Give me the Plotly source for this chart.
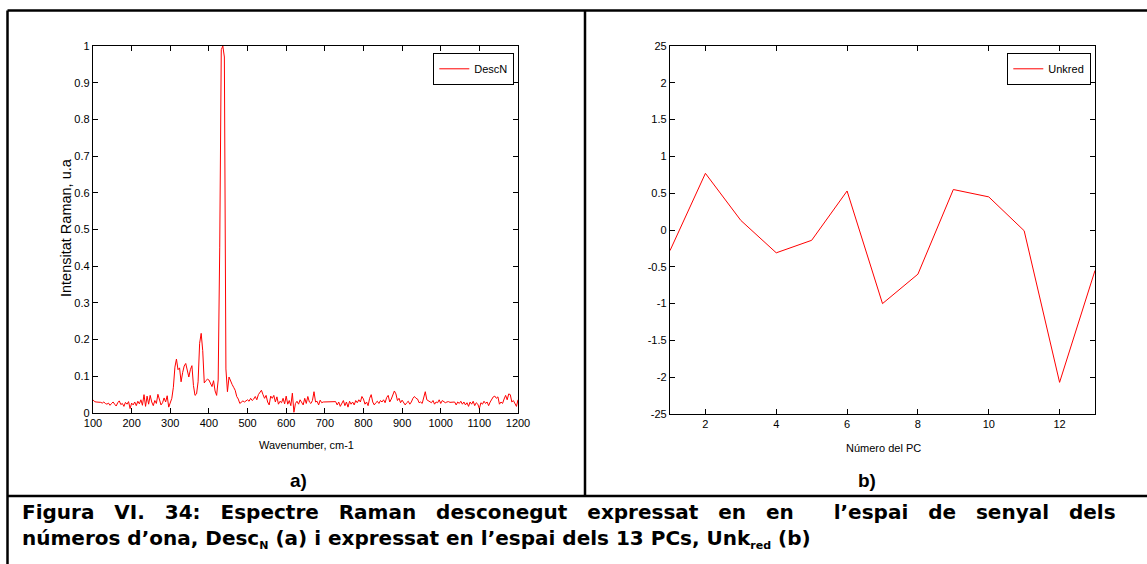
import plotly.graph_objects as go

W, H = 1147, 564

# Panel a) Raman spectrum, sampled every 4 cm-1 from 100 to 1200
wavenumber = list(range(100, 1201, 4))
desc_n = [
    0.036, 0.031, 0.030, 0.030, 0.028, 0.029, 0.027, 0.030, 0.026, 0.024,
    0.027, 0.021, 0.026, 0.030, 0.024, 0.019, 0.028, 0.033, 0.023, 0.026,
    0.018, 0.029, 0.024, 0.031, 0.012, 0.027, 0.022, 0.030, 0.020, 0.032,
    0.025, 0.036, 0.021, 0.050, 0.018, 0.046, 0.024, 0.048, 0.030, 0.020,
    0.034, 0.026, 0.051, 0.032, 0.022, 0.028, 0.041, 0.030, 0.047, 0.016,
    0.030, 0.040, 0.070, 0.125, 0.147, 0.118, 0.123, 0.085, 0.110, 0.128,
    0.135, 0.112, 0.098, 0.118, 0.129, 0.075, 0.048, 0.052, 0.085, 0.190,
    0.217, 0.170, 0.082, 0.088, 0.092, 0.090, 0.078, 0.072, 0.088, 0.060,
    0.048, 0.090, 0.450, 0.990, 1.000, 0.970, 0.120, 0.058, 0.098, 0.085,
    0.078, 0.070, 0.062, 0.045, 0.038, 0.026, 0.030, 0.033, 0.030, 0.034,
    0.036, 0.032, 0.040, 0.034, 0.038, 0.045, 0.036, 0.050, 0.058, 0.062,
    0.050, 0.040, 0.048, 0.030, 0.022, 0.046, 0.040, 0.048, 0.030, 0.044,
    0.024, 0.032, 0.028, 0.040, 0.025, 0.046, 0.024, 0.034, 0.020, 0.054,
    0.002, 0.026, 0.032, 0.024, 0.036, 0.028, 0.022, 0.040, 0.026, 0.045,
    0.030, 0.026, 0.034, 0.058, 0.030, 0.032, 0.022, 0.035, 0.028, 0.030,
    0.030, 0.031, 0.030, 0.031, 0.030, 0.029, 0.030, 0.031, 0.022, 0.030,
    0.018, 0.028, 0.034, 0.020, 0.030, 0.016, 0.032, 0.024, 0.030, 0.022,
    0.034, 0.028, 0.036, 0.030, 0.045, 0.038, 0.024, 0.030, 0.020, 0.040,
    0.050, 0.030, 0.022, 0.028, 0.032, 0.026, 0.034, 0.030, 0.036, 0.028,
    0.042, 0.048, 0.030, 0.038, 0.048, 0.060, 0.052, 0.034, 0.040, 0.028,
    0.035, 0.030, 0.022, 0.028, 0.032, 0.024, 0.030, 0.040, 0.045, 0.040,
    0.038, 0.028, 0.030, 0.026, 0.042, 0.058, 0.036, 0.034, 0.030, 0.028,
    0.034, 0.024, 0.030, 0.028, 0.036, 0.026, 0.034, 0.030, 0.028, 0.030,
    0.031, 0.029, 0.030, 0.029, 0.030, 0.022, 0.030, 0.026, 0.032, 0.024,
    0.030, 0.022, 0.028, 0.018, 0.030, 0.024, 0.032, 0.020, 0.028, 0.024,
    0.012, 0.028, 0.024, 0.032, 0.026, 0.030, 0.020, 0.030, 0.036, 0.044,
    0.046, 0.040, 0.044, 0.024, 0.030, 0.026, 0.038, 0.048, 0.036, 0.052,
    0.050, 0.030, 0.034, 0.024, 0.018, 0.036,
]
assert len(wavenumber) == len(desc_n)

x_ticks_a = list(range(100, 1201, 100))
y_ticks_a = [0, 0.1, 0.2, 0.3, 0.4, 0.5, 0.6, 0.7, 0.8, 0.9, 1]
y_ticktext_a = ["0", "0.1", "0.2", "0.3", "0.4", "0.5", "0.6", "0.7", "0.8", "0.9", "1"]

# Panel b) scores on the 13 principal components
pc_number = [1, 2, 3, 4, 5, 6, 7, 8, 9, 10, 11, 12, 13]
unk_red = [-0.28, 0.77, 0.13, -0.31, -0.14, 0.53, -1.00, -0.60, 0.55, 0.45, -0.01, -2.07, -0.55]

x_ticks_b = [2, 4, 6, 8, 10, 12]
y_ticks_b = [2.5, 2, 1.5, 1, 0.5, 0, -0.5, -1, -1.5, -2, -2.5]
y_ticktext_b = ["25", "2", "1.5", "1", "0.5", "0", "-0.5", "-1", "-1.5", "-2", "-25"]

SUB = '<sub><span style="font-size:11px">{}</span></sub>'
caption_1 = "Figura VI. 34: Espectre Raman desconegut expressat en en  l’espai de senyal dels"
caption_2 = ("números d’ona, Desc" + SUB.format("N") + " (a) i expressat en l’espai dels 13 PCs, Unk"
             + SUB.format("red") + " (b)")

SANS = "Liberation Sans, Arial, sans-serif"
RED = "#ff0000"


def px(xp):
    return xp / W


def py(yp):
    return 1 - yp / H


def justify(text):
    # widen each word gap, like a justified paragraph line
    return text.replace(" ", " \u00a0\u2009\u200a")


fig = go.Figure()
fig.add_trace(go.Scatter(x=wavenumber, y=desc_n, mode="lines", name="DescN",
                         line=dict(color=RED, width=1), xaxis="x", yaxis="y",
                         legend="legend"))
fig.add_trace(go.Scatter(x=pc_number, y=unk_red, mode="lines", name="Unkred",
                         line=dict(color=RED, width=1), xaxis="x2", yaxis="y2",
                         legend="legend2"))

axis_common = dict(showgrid=False, zeroline=False, showline=True, linecolor="black",
                   linewidth=1.3, ticks="inside", ticklen=5, tickwidth=1,
                   tickcolor="black", mirror="ticks", automargin=False,
                   tickfont=dict(family=SANS, size=11, color="black"))

legend_common = dict(xanchor="right", yanchor="top", bgcolor="white",
                     bordercolor="black", borderwidth=1.3,
                     font=dict(family=SANS, size=11, color="black"),
                     itemwidth=30, tracegroupgap=0)

fig.update_layout(
    width=W, height=H,
    margin=dict(l=0, r=0, t=0, b=0, pad=0, autoexpand=False),
    paper_bgcolor="white", plot_bgcolor="white", showlegend=True,
    xaxis=dict(domain=[px(93), px(518)], range=[100, 1200], tickvals=x_ticks_a,
               anchor="y", **axis_common),
    yaxis=dict(domain=[py(413), py(46)], range=[0, 1], tickvals=y_ticks_a,
               ticktext=y_ticktext_a, anchor="x", **axis_common),
    xaxis2=dict(domain=[px(670), px(1095)], range=[1, 13], tickvals=x_ticks_b,
                anchor="y2", **axis_common),
    yaxis2=dict(domain=[py(414), py(46)], range=[-2.5, 2.5], tickvals=y_ticks_b,
                ticktext=y_ticktext_b, anchor="x2", **axis_common),
    legend=dict(x=px(514), y=py(53), **legend_common),
    legend2=dict(x=px(1091), y=py(53), **legend_common),
)

annotations = [
    dict(text="Intensitat Raman, u.a", x=px(66), y=py(228), textangle=-90,
         font=dict(family=SANS, size=14.5, color="black")),
    dict(text="Wavenumber, cm-1", x=px(306), y=py(445),
         font=dict(family=SANS, size=11, color="black")),
    dict(text="Número del PC", x=px(883), y=py(448),
         font=dict(family=SANS, size=11, color="black")),
    dict(text="<b>a)</b>", x=px(298), y=py(480),
         font=dict(family=SANS, size=19, color="black")),
    dict(text="<b>b)</b>", x=px(867), y=py(480),
         font=dict(family=SANS, size=19, color="black")),
    dict(text="<b>" + justify(caption_1) + "</b>", x=px(20), y=py(512), xanchor="left",
         font=dict(family="DejaVu Sans", size=20, color="black")),
    dict(text="<b>" + caption_2 + "</b>", x=px(20), y=py(539), xanchor="left",
         font=dict(family="DejaVu Sans", size=20, color="black")),
]
for a in annotations:
    a.setdefault("xanchor", "center")
    a.setdefault("yanchor", "middle")
    a.update(xref="paper", yref="paper", showarrow=False)
fig.update_layout(annotations=annotations)

# table frame around the two panels and the caption
frame = dict(type="line", xref="paper", yref="paper",
             line=dict(color="black", width=2.5))
fig.update_layout(shapes=[
    dict(frame, x0=px(7.5), x1=px(1147), y0=py(10.5), y1=py(10.5)),
    dict(frame, x0=px(7.5), x1=px(7.5), y0=py(10.5), y1=py(564)),
    dict(frame, x0=px(585), x1=px(585), y0=py(10.5), y1=py(496)),
    dict(frame, x0=px(7.5), x1=px(1147), y0=py(496), y1=py(496)),
])

fig.write_html("out.html")
